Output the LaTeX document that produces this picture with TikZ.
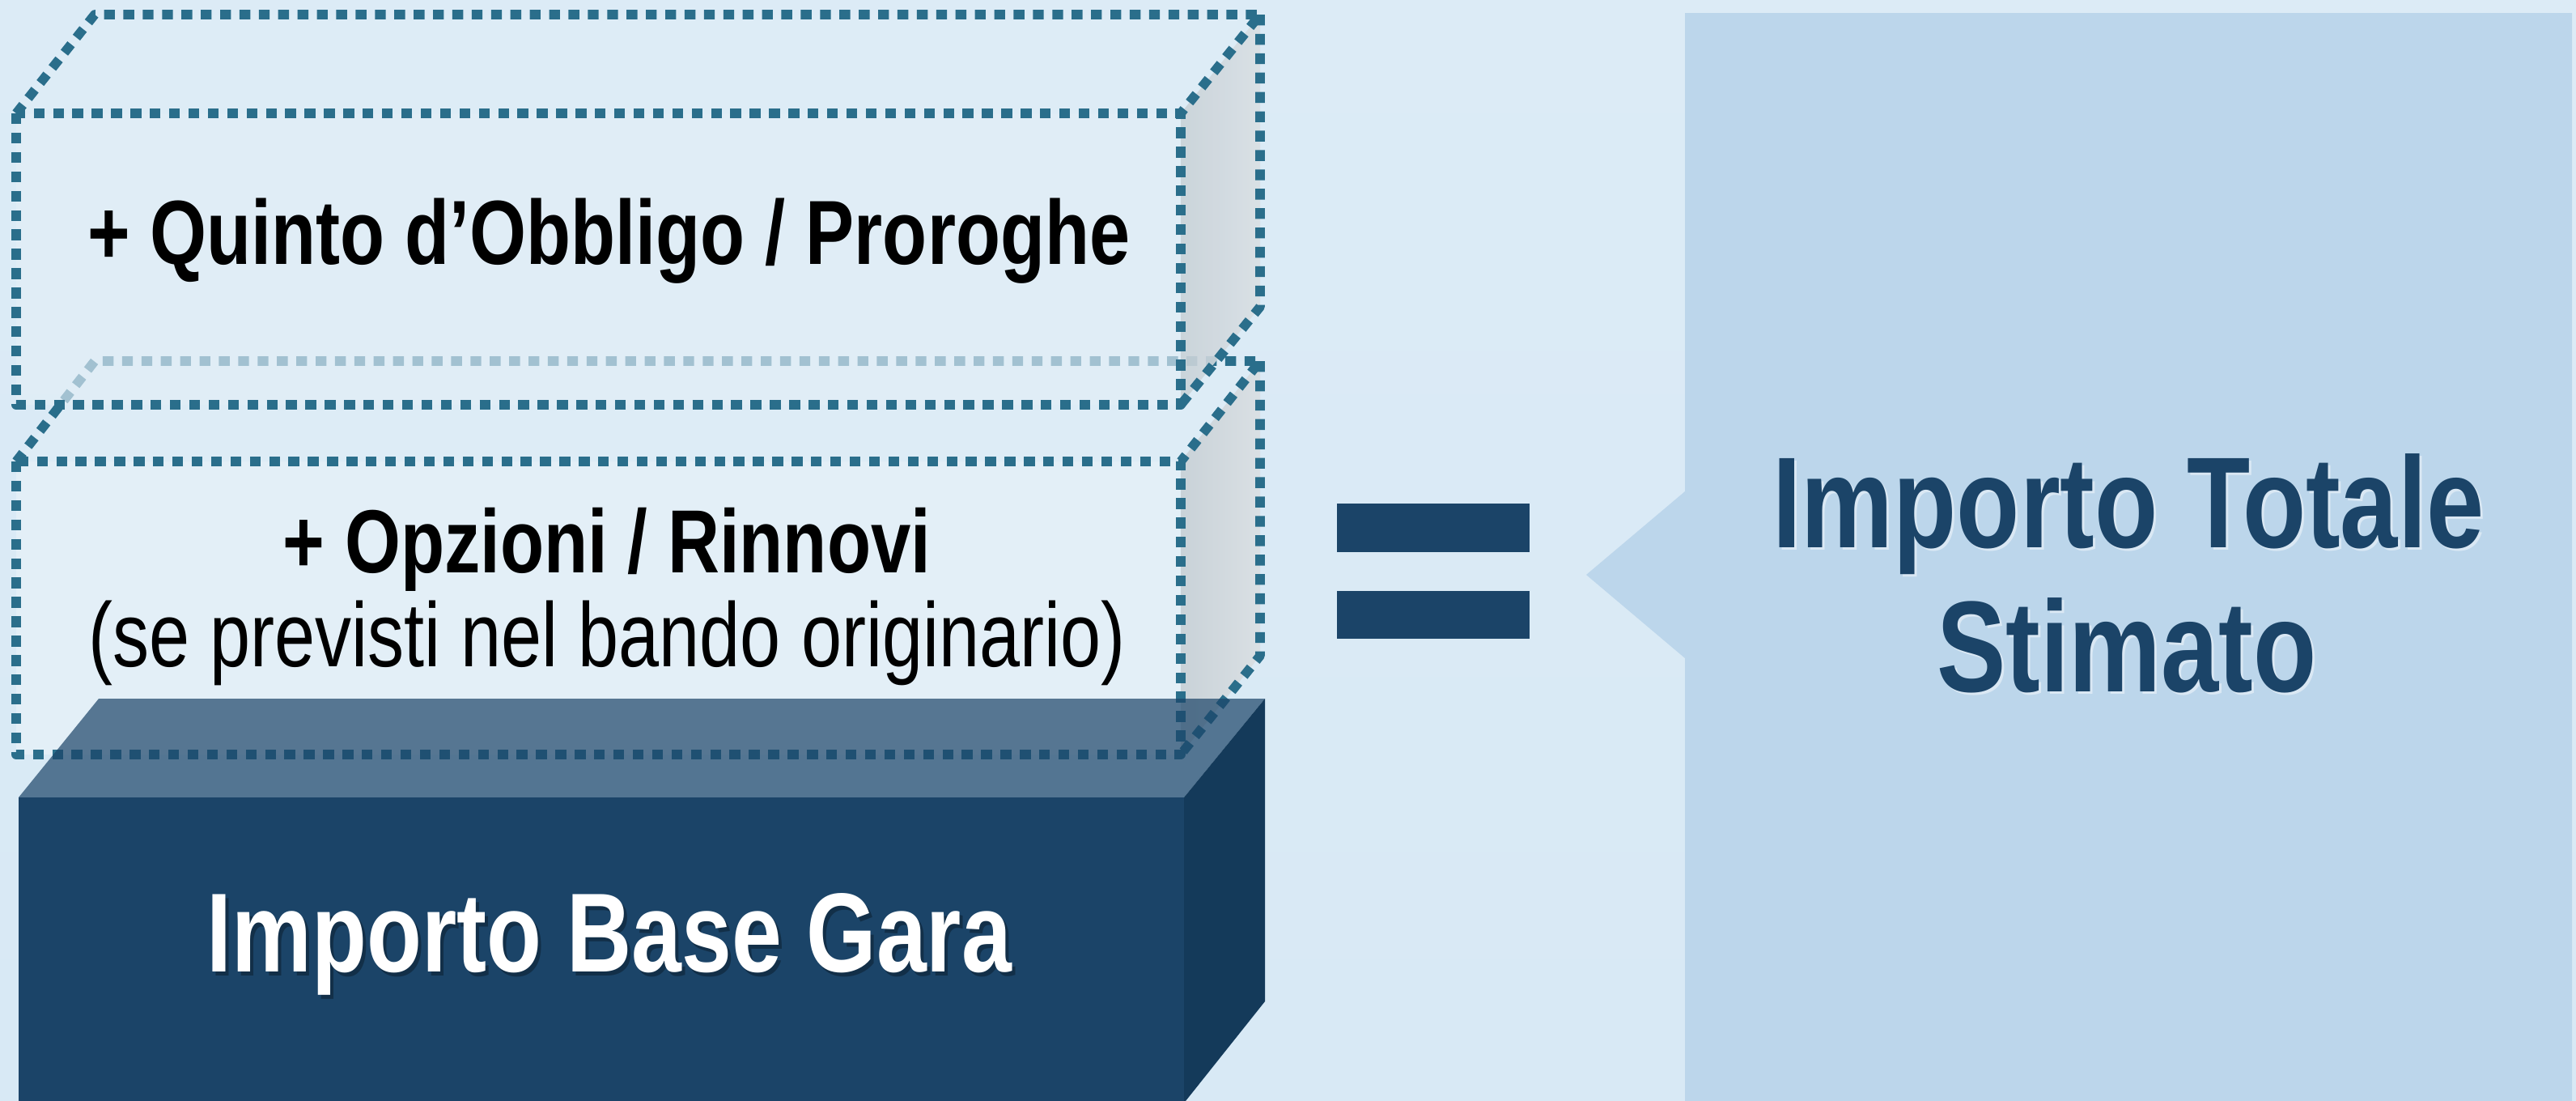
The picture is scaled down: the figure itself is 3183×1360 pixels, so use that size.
\documentclass[tikz,border=0pt]{standalone}
\usepackage{fontspec}
\newfontfamily\cond[FakeStretch=0.8]{Liberation Sans}
\definecolor{bg}{HTML}{D8E9F5}
\definecolor{panel}{HTML}{BCD6EB}
\definecolor{navy}{HTML}{1B4468}
\definecolor{navyside}{HTML}{143A5A}
\definecolor{dashc}{HTML}{2A6E8B}
\definecolor{frontc}{HTML}{E3EFF7}
\definecolor{topc}{HTML}{DDECF6}
\definecolor{sidec}{HTML}{C9D2D8}
\tikzset{
  edgeline/.style={draw=dashc, line width=3.3pt, dash pattern=on 3.8pt off 3pt, line cap=butt, line join=round},
  lbl/.style={inner sep=0pt, anchor=base, font=\cond},
}
\begin{document}
\begin{tikzpicture}[x=0.01cm, y=-0.01cm]
\useasboundingbox (0,0) rectangle (3183,1360);
% background
\shade[top color=bg!90!white, bottom color=bg] (0,0) rectangle (3183,1360);
% right panel with pointer
\fill[panel] (2082,16) -- (3178,16) -- (3178,1360) -- (2082,1360) -- (2082,813) -- (1960,710) -- (2082,607) -- cycle;
% equals sign
\fill[navy] (1652,622) rectangle (1890,682);
\fill[navy] (1652,730) rectangle (1890,789);
% ---- box 2 (Opzioni / Rinnovi)
\fill[frontc] (20,570) rectangle (1459,932);
\fill[topc] (20,570) -- (117,446) -- (1557,446) -- (1459,570) -- cycle;
\shade[left color=sidec, right color=sidec!70!white] (1459,570) -- (1557,446) -- (1557,810) -- (1459,932) -- cycle;
\draw[edgeline] (20,570) rectangle (1459,932);
\draw[edgeline] (20,570) -- (117,446) -- (1557,446) -- (1459,570);
\draw[edgeline] (1557,446) -- (1557,810) -- (1459,932);
% ---- box 1 (Quinto / Proroghe)
\fill[frontc, opacity=0.65] (20,140) rectangle (1459,500);
\fill[topc] (20,140) -- (117,18) -- (1557,18) -- (1459,140) -- cycle;
\shade[left color=sidec, right color=sidec!70!white, opacity=0.9] (1459,140) -- (1557,18) -- (1557,379) -- (1459,500) -- cycle;
\draw[edgeline] (20,140) rectangle (1459,500);
\draw[edgeline] (20,140) -- (117,18) -- (1557,18) -- (1459,140);
\draw[edgeline] (1557,18) -- (1557,379) -- (1459,500);
% ---- base box
\fill[navy, opacity=0.7] (23,985) -- (122,863) -- (1563,863) -- (1463,985) -- cycle;
\fill[navy] (23,985) rectangle (1463,1360);
\fill[navyside] (1463,985) -- (1563,863) -- (1563,1237) -- (1465,1360) -- (1463,1360) -- cycle;
% ---- texts
\node[lbl, font=\cond\bfseries\fontsize{32pt}{38pt}\selectfont] (quinto) at (752,326) {+ Quinto d’Obbligo / Proroghe};
\node[lbl, font=\cond\bfseries\fontsize{31.5pt}{38pt}\selectfont] (opz) at (750,707) {+ Opzioni / Rinnovi};
\node[lbl, font=\cond\fontsize{32pt}{38pt}\selectfont] (opzsub) at (750,823) {(se previsti nel bando originario)};
\node[lbl, font=\cond\bfseries\fontsize{39.5pt}{48pt}\selectfont, text=black, opacity=0.3] (baseshadow) at (757,1205) {Importo Base Gara};
\node[lbl, font=\cond\bfseries\fontsize{39.5pt}{48pt}\selectfont, text=white] (base) at (753,1200) {Importo Base Gara};
\node[lbl, font=\cond\bfseries\fontsize{45.5pt}{54pt}\selectfont, text=white, opacity=0.45] (tot1hl) at (2633,679) {Importo Totale};
\node[lbl, font=\cond\bfseries\fontsize{45.5pt}{54pt}\selectfont, text=white, opacity=0.45] (tot2hl) at (2631,857) {Stimato};
\node[lbl, font=\cond\bfseries\fontsize{45.5pt}{54pt}\selectfont, text=navy] (tot1) at (2630,676) {Importo Totale};
\node[lbl, font=\cond\bfseries\fontsize{45.5pt}{54pt}\selectfont, text=navy] (tot2) at (2628,854) {Stimato};
\end{tikzpicture}
\end{document}
